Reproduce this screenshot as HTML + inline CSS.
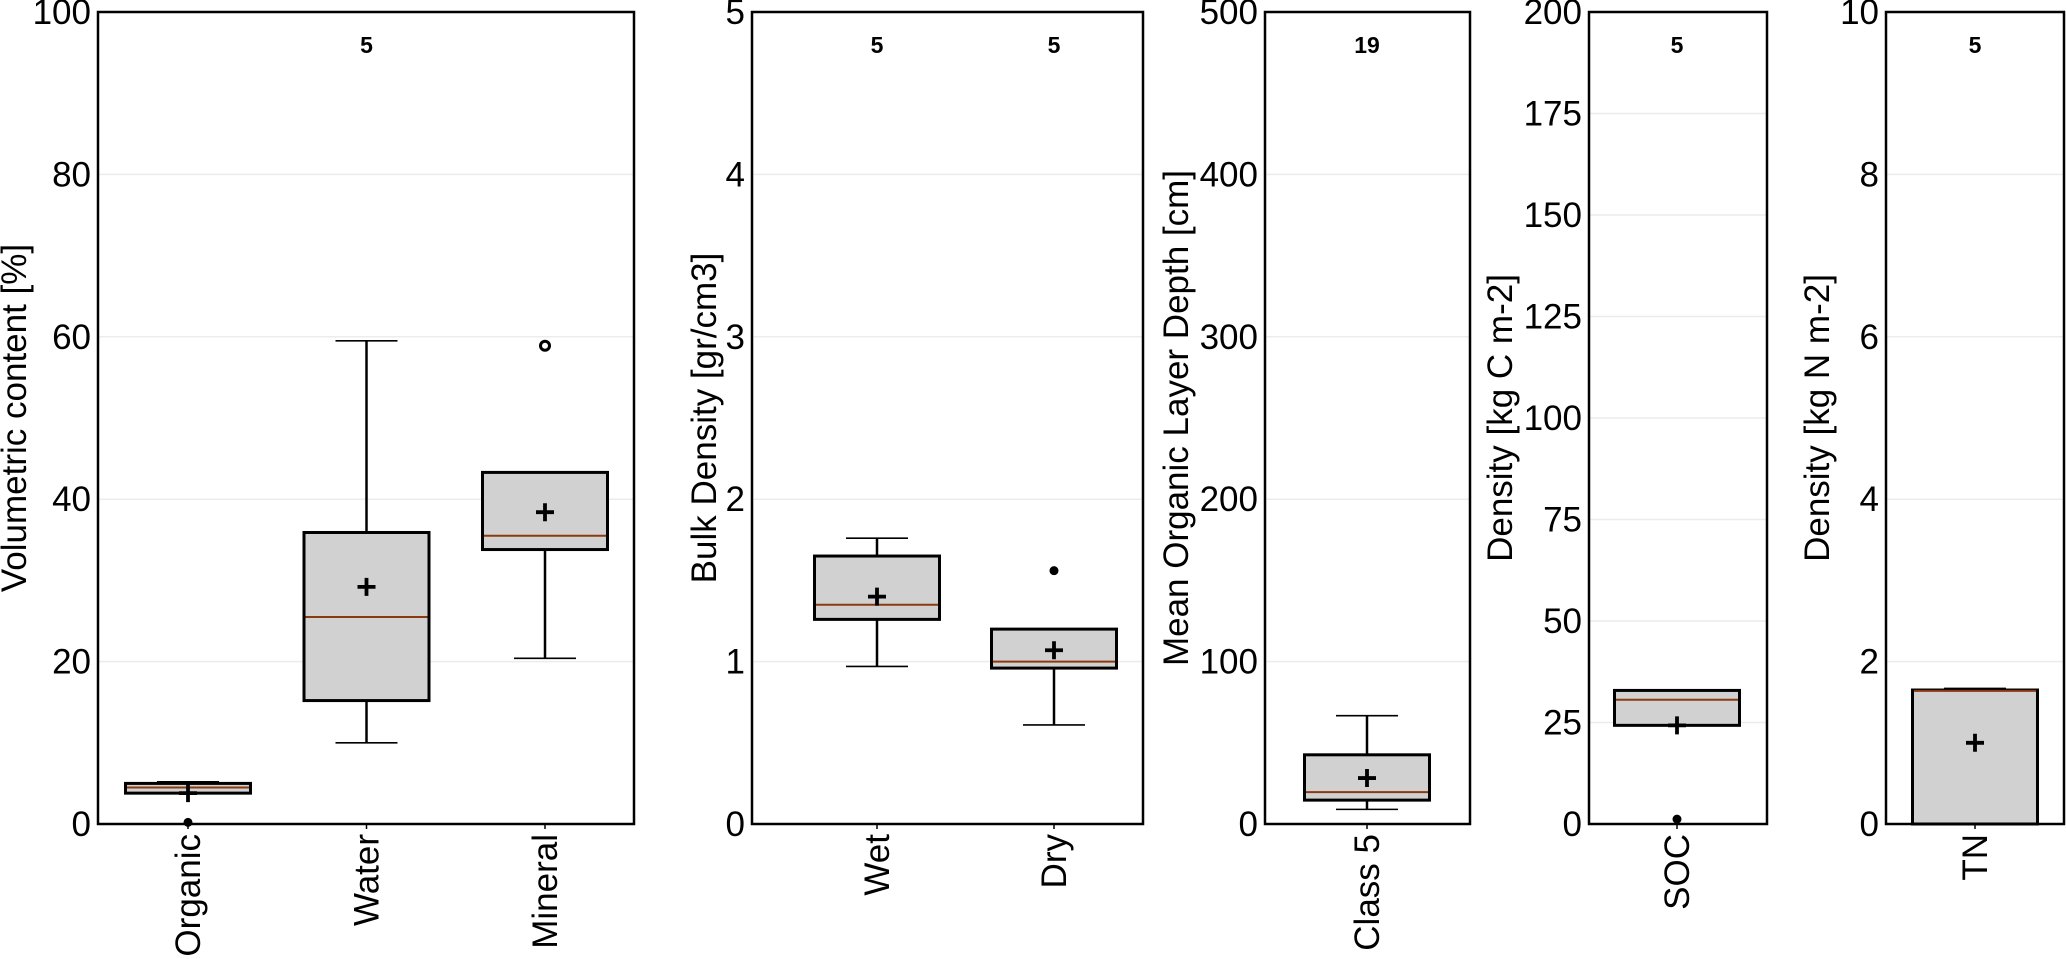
<!DOCTYPE html>
<html><head><meta charset="utf-8"><style>
html,body{margin:0;padding:0;background:#fff}
svg{display:block;font-family:"Liberation Sans",Arial,sans-serif}
</style></head><body>
<svg id="chart" width="2066" height="959" viewBox="0 0 2066 959" xmlns="http://www.w3.org/2000/svg"></svg>
<script>
// ---- data ----
const panelNames = ['volumetric', 'bulk-density', 'organic-depth', 'soc', 'tn'];
const yTitles = ['Volumetric content [%]', 'Bulk Density [gr/cm3]', 'Mean Organic Layer Depth [cm]', 'Density [kg C m-2]', 'Density [kg N m-2]'];
const yMax = [100, 5, 500, 200, 10];
const yStep = [20, 1, 100, 25, 2];
const categories = [['Organic', 'Water', 'Mineral'], ['Wet', 'Dry'], ['Class 5'], ['SOC'], ['TN']];
const counts = [[null, '5', null], ['5', '5'], ['19'], ['5'], ['5']];
const whiskerLow = [[3.8, 10, 20.4], [0.97, 0.61], [9], [24.3], [0]];
const q1 = [[3.8, 15.2, 33.8], [1.26, 0.96], [14.7], [24.3], [0]];
const median = [[4.5, 25.5, 35.5], [1.35, 1.0], [19.6], [30.6], [1.64]];
const q3 = [[5.0, 35.9, 43.3], [1.65, 1.2], [42.6], [32.9], [1.65]];
const whiskerHigh = [[5.2, 59.5, 43.3], [1.76, 1.2], [66.7], [33], [1.67]];
const means = [[3.8, 29.2, 38.4], [1.4, 1.07], [28.3], [24.3], [1.0]];
const outliers = [[[0.2], [], [58.9]], [[], [1.56]], [[]], [[1.2]], [[]]];
const hollowOutlier = [[false, false, true], [false, false], [false], [false], [false]];
// ---- layout ----
const frames = [[98, 634], [752, 1143], [1265, 1470], [1589, 1767], [1886, 2064]];
const firstCenter = [188, 877, 1367, 1677, 1975];
const catStep = [178.5, 177, 0, 0, 0];
const titleX = [18, 708, 1180, 1504, 1821];
const TOP = 12, BOT = 824, BOXW = 125, CAPW = 62;
const NS = 'http://www.w3.org/2000/svg';
const svg = document.getElementById('chart');
function mk(tag, attrs, parent, text) {
  const e = document.createElementNS(NS, tag);
  for (const k in attrs) e.setAttribute(k, attrs[k]);
  if (text !== undefined) e.textContent = text;
  parent.appendChild(e);
  return e;
}
panelNames.forEach((pn, p) => {
  const g = mk('g', {}, svg);
  
  
  const [L, R] = frames[p];
  const y = v => BOT - (v / yMax[p]) * (BOT - TOP);
  const xc = i => firstCenter[p] + i * catStep[p];
  for (let t = 0; t <= yMax[p] + 1e-9; t += yStep[p]) {
    if (t > 0 && t < yMax[p]) {
      const gl = mk('line', {x1: L, x2: R, y1: y(t), y2: y(t), stroke: '#ececec', 'stroke-width': 1.5}, g);
      
      
    }
    const tl = mk('text', {x: L - 7, y: y(t) + 12, 'text-anchor': 'end', 'font-size': 35, fill: '#000'}, g, String(t));
    
    
  }
  const fr = mk('rect', {x: L, y: TOP, width: R - L, height: BOT - TOP, fill: 'none', stroke: '#000', 'stroke-width': 2.5}, g);
  
  
  const yt = mk('text', {x: 0, y: 0, transform: `translate(${titleX[p] + 8},${(TOP + BOT) / 2}) rotate(-90)`, 'text-anchor': 'middle', 'font-size': 35, fill: '#000'}, g, yTitles[p]);
  
  
  categories[p].forEach((c, i) => {
    const cx = xc(i);
    const bg = mk('g', {}, g);
    
    
    mk('line', {x1: cx, x2: cx, y1: y(whiskerHigh[p][i]), y2: y(q3[p][i]), stroke: '#000', 'stroke-width': 2.5}, bg);
    mk('line', {x1: cx, x2: cx, y1: y(q1[p][i]), y2: y(whiskerLow[p][i]), stroke: '#000', 'stroke-width': 2.5}, bg);
    mk('line', {x1: cx - CAPW / 2, x2: cx + CAPW / 2, y1: y(whiskerHigh[p][i]), y2: y(whiskerHigh[p][i]), stroke: '#000', 'stroke-width': 1.6}, bg);
    mk('line', {x1: cx - CAPW / 2, x2: cx + CAPW / 2, y1: y(whiskerLow[p][i]), y2: y(whiskerLow[p][i]), stroke: '#000', 'stroke-width': 1.6}, bg);
    mk('rect', {x: cx - BOXW / 2, y: y(q3[p][i]), width: BOXW, height: Math.max(1, y(q1[p][i]) - y(q3[p][i])), fill: '#d2d1d2', stroke: '#000', 'stroke-width': 3}, bg);
    mk('line', {x1: cx - BOXW / 2 + 1.5, x2: cx + BOXW / 2 - 1.5, y1: y(median[p][i]), y2: y(median[p][i]), stroke: '#8b3a0f', 'stroke-width': 2}, bg);
    const my = y(means[p][i]);
    mk('path', {d: `M${cx - 9} ${my}H${cx + 9}M${cx} ${my - 9}V${my + 9}`, stroke: '#000', 'stroke-width': 3.8}, bg);
    outliers[p][i].forEach(o => {
      const attrs = hollowOutlier[p][i]
        ? {cx: cx, cy: y(o), r: 4.5, fill: '#fff', stroke: '#000', 'stroke-width': 3}
        : {cx: cx, cy: y(o), r: 4.5, fill: '#000'};
      const oc = mk('circle', attrs, bg);
      
      
    });
    const cl = mk('text', {x: 0, y: 0, transform: `translate(${cx + 12},${BOT + 10}) rotate(-90)`, 'text-anchor': 'end', 'font-size': 35, fill: '#000'}, g, c);
    
    
    mk('line', {x1: cx, x2: cx, y1: BOT, y2: BOT + 5, stroke: '#000', 'stroke-width': 1.5}, g);
    if (counts[p][i]) {
      const ct = mk('text', {x: cx, y: 53, 'text-anchor': 'middle', 'font-size': 23, 'font-weight': 'bold', fill: '#000'}, g, counts[p][i]);
      
      
    }
  });
});
</script>
</body></html>
